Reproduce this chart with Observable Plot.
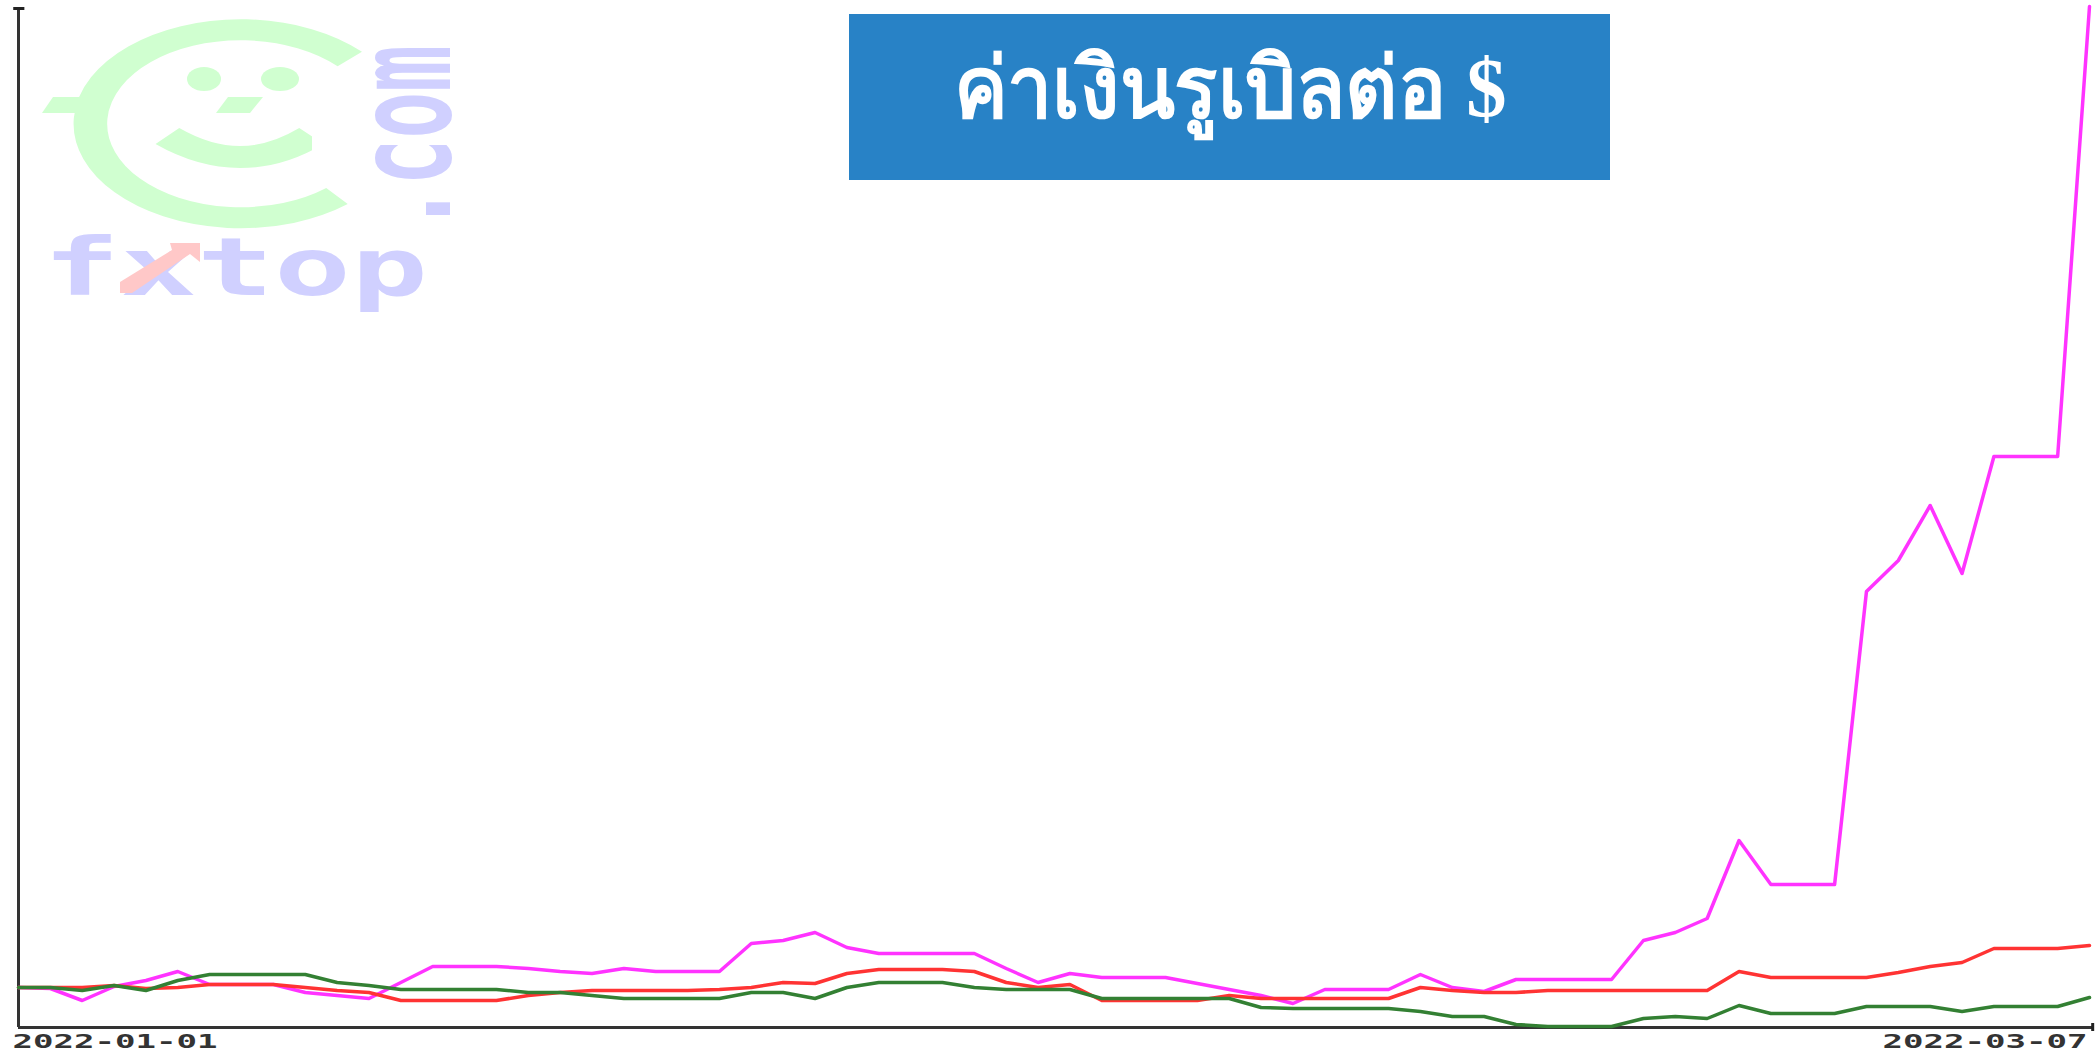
<!DOCTYPE html>
<html lang="th">
<head>
<meta charset="utf-8">
<title>ค่าเงินรูเบิลต่อ $</title>
<script src="https://cdn.jsdelivr.net/npm/d3@7"></script>
<script src="https://cdn.jsdelivr.net/npm/@observablehq/plot@0.6"></script>
<style>
  html, body { margin: 0; padding: 0; background: #fff; }
  #stage { position: relative; width: 2100px; height: 1054px; overflow: hidden; }
  #logo, #chart { position: absolute; left: 0; top: 0; }
  #chart svg { display: block; background: transparent; }
  #title {
    position: absolute; left: 849px; top: 14px; width: 761px; height: 166px;
    background: #2882c6; color: #fff; text-align: center;
    font-family: "Liberation Serif", "Noto Sans", serif; font-weight: 700;
    font-size: 84px; line-height: 150px; white-space: nowrap;
  }
  #title span { display: inline-block; transform: scaleX(0.96); }
</style>
</head>
<body>
<div id="stage">
  <svg id="logo" width="2100" height="1054" aria-label="fxtop.com logo">
    <g fill="none" stroke="#d0ffd0">
      <path transform="translate(241,124) scale(1.6,1)" d="M68 -65 A94 94 0 1 0 60 72" stroke-width="21"/>
      <path transform="translate(241,0) scale(1.6,1)" d="M-46 136 Q0 178 44 136" stroke-width="22" stroke-dasharray="none"/>
    </g>
    <g fill="#d0ffd0">
      <path d="M42 113 L53 97 L100 97 L100 113 Z"/>
      <path d="M228 97 L263 97 L250 113 L216 113 Z"/>
      <ellipse cx="204" cy="79" rx="17" ry="12"/>
      <ellipse cx="280" cy="79" rx="19" ry="12"/>
    </g>
    <g fill="#ffffff">
      <path d="M312 115 L330 115 L330 160 L312 160 Z"/>
    </g>
    <text x="43" y="295" font-family="DejaVu Sans Mono" font-weight="700" font-size="80" fill="#d0d0ff" textLength="385" lengthAdjust="spacingAndGlyphs">fxtop</text>
    <g stroke="none" fill="#ffc8c8">
      <path d="M120 282 L172 250 L170 243 L200 243 L200 262 L190 254 L132 293 L120 293 Z"/>
    </g>
    <text transform="translate(450,232) rotate(-90) scale(1,1.9)" x="0" y="0" font-family="DejaVu Sans Mono" font-weight="700" font-size="70" fill="#d0d0ff" textLength="187" lengthAdjust="spacingAndGlyphs">.com</text>
  </svg>
  <div id="chart"></div>
  <div id="title"><span>ค่าเงินรูเบิลต่อ $</span></div>
</div>
<script>
// The vertical axis carries no labels: values are heights.
const startDate = "2022-01-01";
const endDate = "2022-03-07";
const tickLabels = ["2022-01-01", "2022-03-07"];

const magentaValues = [40,39,27,41,47,56,43,43,43,35,32,29,45,61,61,61,59,56,54,59,56,56,
  56,84,87,95,80,74,74,74,74,59,45,54,50,50,50,44,38,32,24,38,38,38,
  53,40,36,48,48,48,48,87,95,109,187,143,143,143,436,467,522,454,571,571,571,1021];
const redValues = [40,40,40,42,39,40,43,43,43,40,37,35,27,27,27,27,32,35,37,37,37,37,
  38,40,45,44,54,58,58,58,56,45,40,43,27,27,27,27,32,29,29,29,29,29,
  40,37,35,35,37,37,37,37,37,37,56,50,50,50,50,55,61,65,79,79,79,82];
const greenValues = [40,40,37,42,37,47,53,53,53,53,45,42,38,38,38,38,35,35,32,29,29,29,
  29,35,35,29,40,45,45,45,40,38,38,38,29,29,29,29,29,20,19,19,19,19,
  16,11,11,3,1,1,1,9,11,9,22,14,14,14,21,21,21,16,21,21,21,30];

const t0 = new Date(startDate + "T00:00:00Z");
const t1 = new Date(endDate + "T00:00:00Z");
const day = i => new Date(+t0 + i * 864e5);
const series = vals => vals.map((v, i) => ({date: day(i), v}));
const yMax = 1019;

const lineOpts = (stroke) => ({x: "date", y: "v", stroke, strokeWidth: 3.5, curve: "linear", strokeLinejoin: "round"});

const plot = Plot.plot({
  width: 2100,
  height: 1054,
  marginLeft: 18,
  marginRight: 11,
  marginTop: 8,
  marginBottom: 27,
  style: {background: "transparent"},
  x: {type: "utc", domain: [t0, t1], axis: null},
  y: {domain: [0, yMax], axis: null},
  marks: [
    Plot.ruleX([t0], {y1: 0, y2: yMax, stroke: "#333", strokeWidth: 3}),
    Plot.ruleY([0], {x1: t0, x2: day(65.1), stroke: "#333", strokeWidth: 3}),
    Plot.ruleY([yMax], {x1: day(-0.15), x2: day(0.2), stroke: "#222", strokeWidth: 3}),
    Plot.ruleX([day(65.1)], {y1: -4, y2: 4, stroke: "#222", strokeWidth: 3}),
    Plot.line(series(magentaValues), lineOpts("#ff33ff")),
    Plot.line(series(redValues), lineOpts("#ff3333")),
    Plot.line(series(greenValues), lineOpts("#338033")),
    Plot.text([tickLabels[0]], {x: () => t0, y: () => 0, text: d => d, textAnchor: "start", dx: -6, dy: 14,
      fontFamily: "DejaVu Sans Mono", fontWeight: 700, fontSize: 20, fill: "#333", className: "xlabel"}),
    Plot.text([tickLabels[1]], {x: () => t1, y: () => 0, text: d => d, textAnchor: "end", dx: -2, dy: 14,
      fontFamily: "DejaVu Sans Mono", fontWeight: 700, fontSize: 20, fill: "#333", className: "xlabel"})
  ]
});
document.getElementById("chart").appendChild(plot);
d3.select(plot).selectAll(".xlabel text").attr("textLength", 205).attr("lengthAdjust", "spacingAndGlyphs");
</script>
</body>
</html>
